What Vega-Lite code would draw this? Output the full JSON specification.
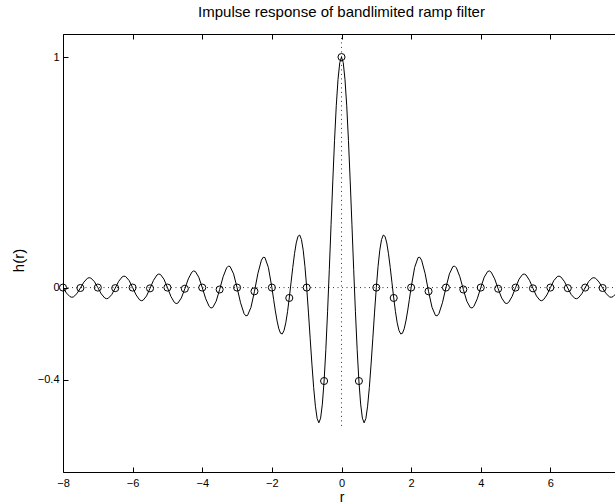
{
  "$schema": "https://vega.github.io/schema/vega-lite/v6.json",
  "width": 557,
  "height": 438,
  "autosize": {"type": "none"},
  "padding": {"left": 63, "top": 34, "right": 0, "bottom": 32},
  "background": "white",
  "title": {"text": "Impulse response of bandlimited ramp filter", "font": "Liberation Sans", "fontSize": 15, "fontWeight": "normal", "color": "black", "anchor": "middle", "offset": 14},
  "datasets": {
    "curve": [
      {"r": -8, "h": 0}, {"r": -7.9, "h": -0.023838}, {"r": -7.8, "h": -0.039388}, {"r": -7.75, "h": -0.041915}, {"r": -7.7, "h": -0.040434}, {"r": -7.6, "h": -0.026205}, {"r": -7.5, "h": -0.001801}, {"r": -7.4, "h": 0.02361}, {"r": -7.3, "h": 0.040225}, {"r": -7.25, "h": 0.042941}, {"r": -7.2, "h": 0.041371}, {"r": -7.1, "h": 0.02616},
      {"r": -7, "h": 0}, {"r": -6.9, "h": -0.027319}, {"r": -6.8, "h": -0.045276}, {"r": -6.75, "h": -0.048269}, {"r": -6.7, "h": -0.046662}, {"r": -6.6, "h": -0.030452}, {"r": -6.5, "h": -0.002398}, {"r": -6.4, "h": 0.026996}, {"r": -6.3, "h": 0.046382}, {"r": -6.25, "h": 0.049633}, {"r": -6.2, "h": 0.047916}, {"r": -6.1, "h": 0.030412},
      {"r": -6, "h": 0}, {"r": -5.9, "h": -0.031989}, {"r": -5.8, "h": -0.053236}, {"r": -5.75, "h": -0.05689}, {"r": -5.7, "h": -0.055152}, {"r": -5.6, "h": -0.036332}, {"r": -5.5, "h": -0.003349}, {"r": -5.4, "h": 0.031506}, {"r": -5.3, "h": 0.054758}, {"r": -5.25, "h": 0.058792}, {"r": -5.2, "h": 0.056922}, {"r": -5.1, "h": 0.036314},
      {"r": -5, "h": 0}, {"r": -4.9, "h": -0.038586}, {"r": -4.8, "h": -0.064588}, {"r": -4.75, "h": -0.069258}, {"r": -4.7, "h": -0.067413}, {"r": -4.6, "h": -0.045005}, {"r": -4.5, "h": -0.005004}, {"r": -4.4, "h": 0.037788}, {"r": -4.3, "h": 0.066816}, {"r": -4.25, "h": 0.072092}, {"r": -4.2, "h": 0.070094}, {"r": -4.1, "h": 0.045058},
      {"r": -4, "h": 0}, {"r": -3.9, "h": -0.04861}, {"r": -3.8, "h": -0.08209}, {"r": -3.75, "h": -0.088486}, {"r": -3.7, "h": -0.086664}, {"r": -3.6, "h": -0.059042}, {"r": -3.5, "h": -0.008271}, {"r": -3.4, "h": 0.047102}, {"r": -3.3, "h": 0.085647}, {"r": -3.25, "h": 0.093146}, {"r": -3.2, "h": 0.091186}, {"r": -3.1, "h": 0.059347},
      {"r": -3, "h": 0}, {"r": -2.9, "h": -0.065667}, {"r": -2.8, "h": -0.112583}, {"r": -2.75, "h": -0.122448}, {"r": -2.7, "h": -0.121219}, {"r": -2.6, "h": -0.085518}, {"r": -2.5, "h": -0.016211}, {"r": -2.4, "h": 0.062046}, {"r": -2.3, "h": 0.119087}, {"r": -2.25, "h": 0.131464}, {"r": -2.2, "h": 0.130372}, {"r": -2.1, "h": 0.0869},
      {"r": -2, "h": 0}, {"r": -1.95, "h": -0.051095}, {"r": -1.9, "h": -0.101152}, {"r": -1.85, "h": -0.145301}, {"r": -1.8, "h": -0.178988}, {"r": -1.75, "h": -0.198433}, {"r": -1.7, "h": -0.201024}, {"r": -1.65, "h": -0.185617}, {"r": -1.6, "h": -0.152736}, {"r": -1.55, "h": -0.104601},
      {"r": -1.5, "h": -0.045032}, {"r": -1.45, "h": 0.020826}, {"r": -1.4, "h": 0.086883}, {"r": -1.35, "h": 0.146618}, {"r": -1.3, "h": 0.193635}, {"r": -1.25, "h": 0.222225}, {"r": -1.2, "h": 0.227967}, {"r": -1.15, "h": 0.208137}, {"r": -1.1, "h": 0.162093}, {"r": -1.05, "h": 0.09143},
      {"r": -1, "h": 0}, {"r": -0.95, "h": -0.106287}, {"r": -0.9, "h": -0.219832}, {"r": -0.85, "h": -0.331867}, {"r": -0.8, "h": -0.433109}, {"r": -0.75, "h": -0.514476}, {"r": -0.7, "h": -0.567812}, {"r": -0.65, "h": -0.586568}, {"r": -0.6, "h": -0.566401}, {"r": -0.55, "h": -0.505589},
      {"r": -0.5, "h": -0.405285}, {"r": -0.45, "h": -0.269522}, {"r": -0.4, "h": -0.105041}, {"r": -0.35, "h": 0.079124}, {"r": -0.3, "h": 0.272264}, {"r": -0.25, "h": 0.462671}, {"r": -0.2, "h": 0.638513}, {"r": -0.15, "h": 0.78865}, {"r": -0.1, "h": 0.90343}, {"r": -0.05, "h": 0.97547},
      {"r": 0, "h": 1},
      {"r": 0.05, "h": 0.97547}, {"r": 0.1, "h": 0.90343}, {"r": 0.15, "h": 0.78865}, {"r": 0.2, "h": 0.638513}, {"r": 0.25, "h": 0.462671}, {"r": 0.3, "h": 0.272264}, {"r": 0.35, "h": 0.079124}, {"r": 0.4, "h": -0.105041}, {"r": 0.45, "h": -0.269522}, {"r": 0.5, "h": -0.405285},
      {"r": 0.55, "h": -0.505589}, {"r": 0.6, "h": -0.566401}, {"r": 0.65, "h": -0.586568}, {"r": 0.7, "h": -0.567812}, {"r": 0.75, "h": -0.514476}, {"r": 0.8, "h": -0.433109}, {"r": 0.85, "h": -0.331867}, {"r": 0.9, "h": -0.219832}, {"r": 0.95, "h": -0.106287}, {"r": 1, "h": 0},
      {"r": 1.05, "h": 0.09143}, {"r": 1.1, "h": 0.162093}, {"r": 1.15, "h": 0.208137}, {"r": 1.2, "h": 0.227967}, {"r": 1.25, "h": 0.222225}, {"r": 1.3, "h": 0.193635}, {"r": 1.35, "h": 0.146618}, {"r": 1.4, "h": 0.086883}, {"r": 1.45, "h": 0.020826}, {"r": 1.5, "h": -0.045032},
      {"r": 1.55, "h": -0.104601}, {"r": 1.6, "h": -0.152736}, {"r": 1.65, "h": -0.185617}, {"r": 1.7, "h": -0.201024}, {"r": 1.75, "h": -0.198433}, {"r": 1.8, "h": -0.178988}, {"r": 1.85, "h": -0.145301}, {"r": 1.9, "h": -0.101152}, {"r": 1.95, "h": -0.051095}, {"r": 2, "h": 0},
      {"r": 2.1, "h": 0.0869}, {"r": 2.2, "h": 0.130372}, {"r": 2.25, "h": 0.131464}, {"r": 2.3, "h": 0.119087}, {"r": 2.4, "h": 0.062046}, {"r": 2.5, "h": -0.016211}, {"r": 2.6, "h": -0.085518}, {"r": 2.7, "h": -0.121219}, {"r": 2.75, "h": -0.122448}, {"r": 2.8, "h": -0.112583}, {"r": 2.9, "h": -0.065667}, {"r": 3, "h": 0},
      {"r": 3.1, "h": 0.059347}, {"r": 3.2, "h": 0.091186}, {"r": 3.25, "h": 0.093146}, {"r": 3.3, "h": 0.085647}, {"r": 3.4, "h": 0.047102}, {"r": 3.5, "h": -0.008271}, {"r": 3.6, "h": -0.059042}, {"r": 3.7, "h": -0.086664}, {"r": 3.75, "h": -0.088486}, {"r": 3.8, "h": -0.08209}, {"r": 3.9, "h": -0.04861}, {"r": 4, "h": 0},
      {"r": 4.1, "h": 0.045058}, {"r": 4.2, "h": 0.070094}, {"r": 4.25, "h": 0.072092}, {"r": 4.3, "h": 0.066816}, {"r": 4.4, "h": 0.037788}, {"r": 4.5, "h": -0.005004}, {"r": 4.6, "h": -0.045005}, {"r": 4.7, "h": -0.067413}, {"r": 4.75, "h": -0.069258}, {"r": 4.8, "h": -0.064588}, {"r": 4.9, "h": -0.038586}, {"r": 5, "h": 0},
      {"r": 5.1, "h": 0.036314}, {"r": 5.2, "h": 0.056922}, {"r": 5.25, "h": 0.058792}, {"r": 5.3, "h": 0.054758}, {"r": 5.4, "h": 0.031506}, {"r": 5.5, "h": -0.003349}, {"r": 5.6, "h": -0.036332}, {"r": 5.7, "h": -0.055152}, {"r": 5.75, "h": -0.05689}, {"r": 5.8, "h": -0.053236}, {"r": 5.9, "h": -0.031989}, {"r": 6, "h": 0},
      {"r": 6.1, "h": 0.030412}, {"r": 6.2, "h": 0.047916}, {"r": 6.25, "h": 0.049633}, {"r": 6.3, "h": 0.046382}, {"r": 6.4, "h": 0.026996}, {"r": 6.5, "h": -0.002398}, {"r": 6.6, "h": -0.030452}, {"r": 6.7, "h": -0.046662}, {"r": 6.75, "h": -0.048269}, {"r": 6.8, "h": -0.045276}, {"r": 6.9, "h": -0.027319}, {"r": 7, "h": 0},
      {"r": 7.1, "h": 0.02616}, {"r": 7.2, "h": 0.041371}, {"r": 7.25, "h": 0.042941}, {"r": 7.3, "h": 0.040225}, {"r": 7.4, "h": 0.02361}, {"r": 7.5, "h": -0.001801}, {"r": 7.6, "h": -0.026205}, {"r": 7.7, "h": -0.040434}, {"r": 7.75, "h": -0.041915}, {"r": 7.8, "h": -0.039388}, {"r": 7.9, "h": -0.023838}, {"r": 8, "h": 0}
    ],
    "samples": [
      {"r": -8, "h": 0}, {"r": -7.5, "h": -0.001801}, {"r": -7, "h": 0}, {"r": -6.5, "h": -0.002398}, {"r": -6, "h": 0}, {"r": -5.5, "h": -0.003349}, {"r": -5, "h": 0}, {"r": -4.5, "h": -0.005004}, {"r": -4, "h": 0}, {"r": -3.5, "h": -0.008271}, {"r": -3, "h": 0}, {"r": -2.5, "h": -0.016211}, {"r": -2, "h": 0}, {"r": -1.5, "h": -0.045032}, {"r": -1, "h": 0}, {"r": -0.5, "h": -0.405285},
      {"r": 0, "h": 1},
      {"r": 0.5, "h": -0.405285}, {"r": 1, "h": 0}, {"r": 1.5, "h": -0.045032}, {"r": 2, "h": 0}, {"r": 2.5, "h": -0.016211}, {"r": 3, "h": 0}, {"r": 3.5, "h": -0.008271}, {"r": 4, "h": 0}, {"r": 4.5, "h": -0.005004}, {"r": 5, "h": 0}, {"r": 5.5, "h": -0.003349}, {"r": 6, "h": 0}, {"r": 6.5, "h": -0.002398}, {"r": 7, "h": 0}, {"r": 7.5, "h": -0.001801}, {"r": 8, "h": 0}
    ],
    "guides": [
      {"x1": -8, "x2": 8, "y1": 0, "y2": 0},
      {"x1": 0, "x2": 0, "y1": -0.6, "y2": 1.1}
    ]
  },
  "layer": [
    {
      "data": {"name": "guides"},
      "mark": {"type": "rule", "color": "black", "strokeWidth": 1, "strokeDash": [1, 3.5], "opacity": 0.8},
      "encoding": {
        "x": {"field": "x1", "type": "quantitative", "scale": {"domain": [-8, 8], "nice": false, "zero": false}, "axis": null},
        "x2": {"field": "x2"},
        "y": {"field": "y1", "type": "quantitative", "scale": {"domain": [-0.8, 1.1], "nice": false, "zero": false}, "axis": null},
        "y2": {"field": "y2"}
      }
    },
    {
      "data": {"name": "curve"},
      "mark": {"type": "line", "color": "black", "strokeWidth": 1, "clip": true},
      "encoding": {
        "x": {"field": "r", "type": "quantitative", "scale": {"domain": [-8, 8], "nice": false, "zero": false},
          "axis": {"orient": "bottom", "values": [-8, -6, -4, -2, 0, 2, 4, 6], "format": "~g", "title": "r", "labelPadding": 10, "titleX": 278.5, "titleY": 29, "titleFontSize": 14, "titleBaseline": "alphabetic", "titleAlign": "center"}},
        "y": {"field": "h", "type": "quantitative", "scale": {"domain": [-0.8, 1.1], "nice": false, "zero": false},
          "axis": {"orient": "left", "values": [-0.4, 0, 1], "format": "~g", "title": "h(r)", "labelPadding": 9, "titleX": -45, "titleY": 226, "titleAngle": -90, "titleBaseline": "middle", "titleAlign": "center"}}
      }
    },
    {
      "data": {"name": "samples"},
      "mark": {"type": "point", "shape": "circle", "filled": false, "color": "black", "size": 50, "strokeWidth": 1, "opacity": 1},
      "encoding": {
        "x": {"field": "r", "type": "quantitative", "scale": {"domain": [-8, 8], "nice": false, "zero": false},
          "axis": {"orient": "top", "values": [-8, -6, -4, -2, 0, 2, 4, 6, 8], "labels": false, "title": null}},
        "y": {"field": "h", "type": "quantitative", "scale": {"domain": [-0.8, 1.1], "nice": false, "zero": false},
          "axis": {"orient": "right", "values": [-0.4, 0, 1], "labels": false, "title": null}}
      }
    }
  ],
  "resolve": {"axis": {"x": "independent", "y": "independent"}},
  "config": {
    "view": {"stroke": "black", "strokeWidth": 1},
    "axis": {"domain": false, "grid": false, "ticks": true, "tickColor": "black", "tickSize": -5, "tickWidth": 1, "labelColor": "black", "labelFont": "Liberation Sans", "labelFontSize": 11, "labelOverlap": false, "labelFlush": false, "labelBound": false, "titleFont": "Liberation Sans", "titleFontSize": 15, "titleFontWeight": "normal", "titleColor": "black"}
  }
}
